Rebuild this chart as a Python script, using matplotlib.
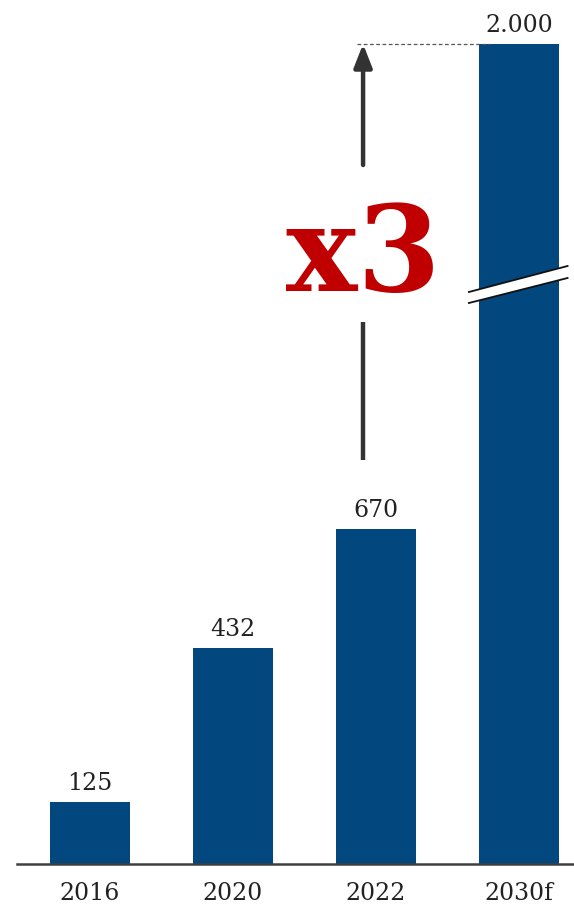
import matplotlib
matplotlib.use("Agg")
import matplotlib.pyplot as plt
from matplotlib.patches import Polygon

# ========================
# Data
# ========================
years = ["2016", "2020", "2022", "2030f"]
values = [125, 432, 670, 2000]
value_labels = ["125", "432", "670", "2.000"]
BREAK_TOP = 1640  # drawn height of the broken 2030f bar

BAR_COLOR = "#03477f"
RED = "#c00000"
DARK = "#333333"

plt.rcParams["font.family"] = ["DejaVu Serif"]

fig = plt.figure(figsize=(5.74, 9.13), dpi=100)
ax = fig.add_axes([17 / 574, 49 / 913, 557 / 574, 864 / 913])

x = list(range(len(years)))
heights = [min(v, BREAK_TOP) for v in values]
ax.bar(x, heights, width=0.56, color=BAR_COLOR, zorder=2)

for xi, h, lab in zip(x, heights, value_labels):
    ax.text(xi, h + 14, lab, ha="center", va="bottom", fontsize=17, color="#222222")

ax.set_xlim(-0.51, 3.385)
ax.set_ylim(0, 1728)

# axis styling
for side in ["top", "right", "left"]:
    ax.spines[side].set_visible(False)
ax.spines["bottom"].set_color("#404040")
ax.spines["bottom"].set_linewidth(1.8)
ax.set_yticks([])
ax.set_xticks(x)
ax.set_xticklabels(years, fontsize=17, color="#222222")
ax.tick_params(axis="x", length=0, pad=13)

# break marks on the 2030f bar
bx0, bx1 = 2.65, 3.34
upper = (1144, 1196)
lower = (1122, 1172)
ax.add_patch(Polygon([(bx0, lower[0]), (bx1, lower[1]), (bx1, upper[1]), (bx0, upper[0])],
                     closed=True, facecolor="white", edgecolor="none", zorder=3))
ax.plot([bx0, bx1], upper, color="#111111", lw=1.3, zorder=4)
ax.plot([bx0, bx1], lower, color="#111111", lw=1.3, zorder=4)

# growth arrow
arrow_x = 1.91
ax.plot([arrow_x - 0.04, 2.8], [BREAK_TOP, BREAK_TOP], color="#555555", lw=0.9,
        ls=(0, (3, 2)), zorder=3)
ax.plot([arrow_x, arrow_x], [808, 1084], color=DARK, lw=3.2, solid_capstyle="butt")
ax.annotate("", xy=(arrow_x, BREAK_TOP), xytext=(arrow_x, 1398),
            arrowprops=dict(arrowstyle="-|>,head_length=1.4,head_width=0.55",
                            color=DARK, lw=3.2, shrinkA=0, shrinkB=0))
ax.text(arrow_x, 1212, "x3", ha="center", va="center", fontsize=86,
        fontweight="bold", color=RED)

fig.savefig("out.png", dpi=100)
